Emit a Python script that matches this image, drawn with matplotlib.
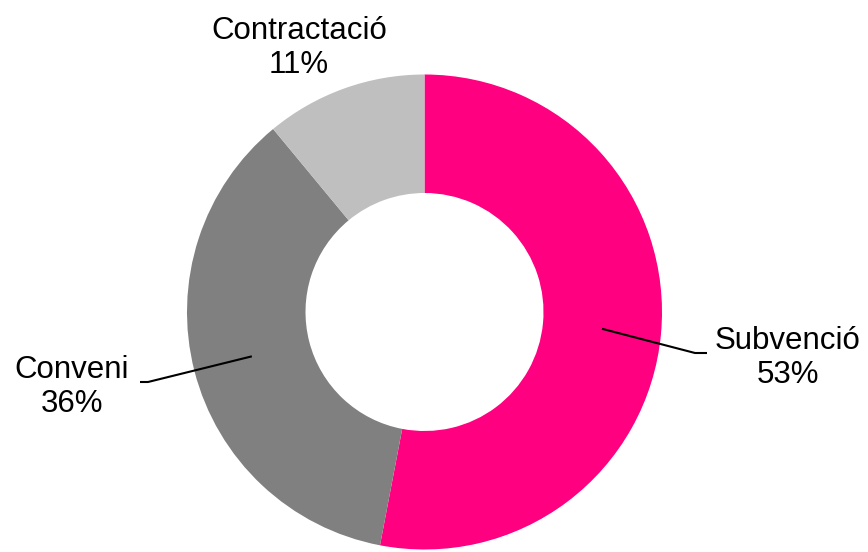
import matplotlib
matplotlib.use("Agg")
import matplotlib.pyplot as plt
import numpy as np

categories = ["Subvenció", "Conveni", "Contractació"]
values = [53, 36, 11]
colors = ["#FF0080", "#808080", "#BFBFBF"]

W, H = 868, 552
fig = plt.figure(figsize=(W / 100, H / 100), dpi=100)
ax = fig.add_axes([0, 0, 1, 1])

cx, cy = 424.5, H - 312
R = 237.5
ring = 118.5

wedges, _ = ax.pie(values, colors=colors, startangle=90, counterclock=False,
                   radius=R, center=(cx, cy), frame=True,
                   wedgeprops=dict(width=ring, edgecolor="none"))
ax.set_xlim(0, W)
ax.set_ylim(0, H)
ax.set_aspect("equal")
ax.axis("off")

font = dict(family=["Liberation Sans", "DejaVu Sans"], fontsize=22.5, color="black")

# label positions (last-line baseline, in pixels from top) and leader elbows
label_pos = {"Subvenció": (788, 383), "Conveni": (72, 412), "Contractació": (299, 73)}
elbows = {"Subvenció": [(695, 353), (707, 353)], "Conveni": [(148, 382), (140, 382)]}

total = sum(values)
for w, cat, v in zip(wedges, categories, values):
    x, y = label_pos[cat]
    ax.text(x, H - y, f"{cat}\n{round(100 * v / total)}%", ha="center", va="baseline",
            linespacing=1.17, **font)
    if cat in elbows:
        ang = np.deg2rad((w.theta1 + w.theta2) / 2)
        rm = R - ring / 2
        sx, sy = cx + rm * np.cos(ang), cy + rm * np.sin(ang)
        pts = [(sx, sy)] + [(px, H - py) for px, py in elbows[cat]]
        ax.plot([p[0] for p in pts], [p[1] for p in pts], color="black", lw=1.5,
                solid_capstyle="butt")

fig.savefig("out.png", dpi=100)
